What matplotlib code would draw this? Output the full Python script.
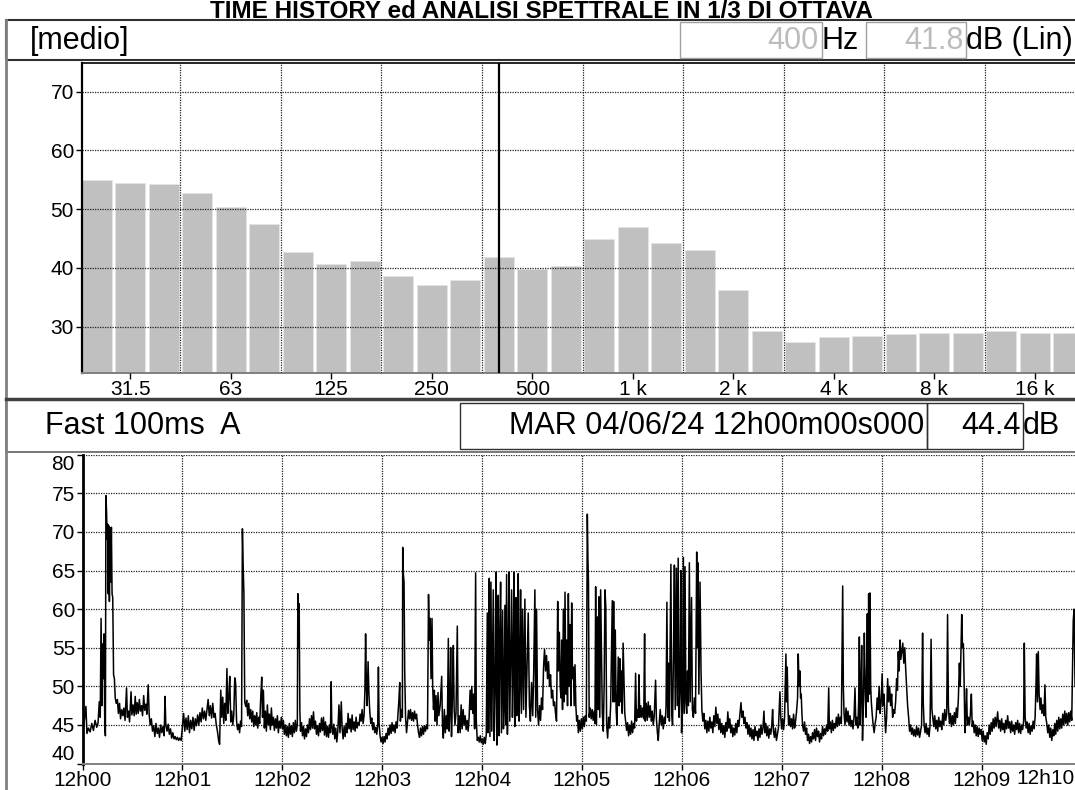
import numpy as np
import matplotlib
matplotlib.use("Agg")
import matplotlib.pyplot as plt
from matplotlib.patches import Rectangle
from matplotlib.lines import Line2D

plt.rcParams['font.family'] = ['Liberation Sans', 'DejaVu Sans']

# 1/3 octave spectrum (average levels, dB Lin)
bands = ["25", "31.5", "40", "50", "63", "80", "100", "125", "160", "200",
         "250", "315", "400", "500", "630", "800", "1 k", "1.25 k", "1.6 k", "2 k",
         "2.5 k", "3.15 k", "4 k", "5 k", "6.3 k", "8 k", "10 k", "12.5 k", "16 k", "20 k"]
band_levels = [55.0, 54.4, 54.2, 52.7, 50.4, 47.5, 42.8, 40.7, 41.2, 38.6,
               37.1, 37.9, 41.8, 39.9, 40.4, 45.0, 47.0, 44.3, 43.0, 36.2,
               29.3, 27.4, 28.2, 28.5, 28.8, 29.0, 29.0, 29.3, 29.0, 29.0]
octave_labels = ["31.5", "63", "125", "250", "500", "1 k", "2 k", "4 k", "8 k", "16 k"]
cursor_band = "400"

# time history, Fast A-weighted (seconds from 12h00m00s, dB)
min_00 = [(0.0, 44.4), (1, 45.5), (2, 47.4), (2.6, 43.9), (3.5, 44.6), (4.5, 44.1), (5.5, 45.2), (6.5, 44.3),
          (7.5, 45.6), (8.5, 44.7), (9.3, 45.3), (10, 48.0), (10.6, 46.0), (11.1, 58.8), (11.6, 47.5),
          (12.1, 55.5), (12.6, 51.0), (12.9, 56.8), (13.3, 45.0), (13.7, 43.6), (14.0, 74.7), (14.4, 72.5),
          (14.8, 69.0), (15.1, 71.0), (15.4, 62.0), (15.7, 70.8), (16.1, 61.0), (16.5, 70.5), (16.9, 63.5),
          (17.3, 70.6), (17.7, 62.0), (18.1, 61.5), (18.6, 51.5), (19.1, 51.0), (19.6, 48.5), (20.2, 47.8),
          (20.9, 48.3), (21.5, 46.5), (22.2, 47.8), (22.8, 45.8), (23.5, 47.0), (24.2, 46.2), (24.8, 47.2),
          (25.5, 45.6), (26.4, 49.8), (26.9, 46.0), (27.6, 46.8), (28.2, 45.4), (29.1, 49.3), (29.6, 46.3),
          (30.3, 47.6), (31.0, 46.2), (31.6, 48.7), (32.2, 46.4), (32.8, 47.9), (33.4, 46.5), (34.1, 48.3),
          (34.7, 46.8), (35.4, 47.5), (36.0, 46.2), (36.7, 48.8), (37.3, 46.9), (38.0, 47.7), (38.6, 46.4),
          (39.4, 50.2), (40.0, 46.3), (40.6, 45.0), (41.3, 45.8), (42.0, 44.2), (42.7, 44.9), (43.4, 43.5),
          (44.1, 45.2), (44.8, 43.9), (45.5, 44.6), (46.2, 43.4), (46.9, 45.0), (47.6, 44.0), (48.3, 44.8),
          (49.0, 43.6), (49.5, 48.7), (50.0, 45.0), (50.7, 44.2), (51.4, 45.1), (52.1, 43.8), (52.8, 44.5),
          (53.5, 43.3), (54.2, 44.0), (54.9, 43.2), (55.6, 43.5), (56.3, 43.1), (57.0, 43.4), (57.7, 43.0),
          (58.4, 43.3), (59.2, 43.0)]
min_01 = [(60.0, 44.8), (60.7, 46.5), (61.4, 44.2), (62.1, 45.9), (62.8, 44.4), (63.5, 46.2), (64.2, 44.0),
          (64.9, 45.6), (65.6, 44.5), (66.3, 46.0), (67.0, 44.3), (67.7, 45.8), (68.4, 44.9), (69.1, 46.3),
          (69.8, 45.0), (70.5, 46.6), (71.2, 45.4), (71.9, 47.2), (72.6, 45.8), (73.3, 46.8), (74.0, 45.6),
          (74.7, 47.0), (75.4, 48.3), (76.1, 46.2), (76.8, 47.5), (77.5, 45.9), (78.2, 47.8), (78.9, 46.0),
          (79.6, 46.5), (80.3, 45.0), (81.0, 44.2), (81.7, 43.0), (82.3, 42.5), (83.0, 49.5), (83.6, 46.0),
          (84.2, 48.6), (84.8, 45.2), (85.4, 47.8), (86.0, 45.6), (86.7, 52.3), (87.2, 46.5), (87.8, 48.5),
          (88.4, 51.3), (89.0, 45.4), (89.6, 46.8), (90.2, 45.0), (90.8, 46.2), (91.4, 51.1), (91.9, 50.5),
          (92.5, 45.5), (93.1, 44.4), (93.7, 45.1), (94.3, 44.0), (94.9, 45.5), (95.5, 44.8), (96.0, 70.4),
          (96.4, 66.0), (96.9, 62.0), (97.4, 48.0), (98.0, 47.4), (98.6, 48.2), (99.2, 46.2), (99.8, 47.8),
          (100.4, 45.8), (101.0, 47.0), (101.6, 45.4), (102.2, 46.8), (102.8, 44.8), (103.4, 46.2),
          (104.0, 45.0), (104.6, 46.6), (105.2, 44.6), (105.8, 46.0), (106.4, 45.2), (107.0, 48.5),
          (107.6, 51.2), (108.1, 46.0), (108.6, 49.5), (109.2, 44.6), (109.8, 46.8), (110.4, 44.2),
          (111.0, 47.6), (111.6, 45.0), (112.2, 46.4), (112.8, 44.4), (113.4, 47.2), (114.0, 45.0),
          (114.6, 46.0), (115.2, 44.3), (115.8, 45.8), (116.4, 44.6), (117.0, 46.2), (117.6, 44.0),
          (118.2, 45.5), (118.8, 44.6), (119.4, 46.0)]
min_02 = [(120.0, 44.5), (120.6, 45.6), (121.2, 43.8), (121.8, 45.0), (122.4, 43.6), (123.0, 44.8),
          (123.6, 43.4), (124.2, 45.2), (124.8, 43.8), (125.4, 44.9), (126.0, 43.5), (126.6, 45.3),
          (127.2, 44.0), (127.8, 45.6), (128.4, 44.2), (129.0, 45.0), (129.3, 62.0), (129.7, 55.0),
          (130.1, 60.7), (130.5, 47.0), (130.9, 44.2), (131.5, 45.3), (132.1, 43.6), (132.7, 44.8),
          (133.3, 43.2), (133.9, 44.5), (134.5, 43.5), (135.1, 45.0), (135.7, 44.0), (136.3, 45.8),
          (136.9, 44.4), (137.5, 46.2), (138.1, 44.6), (138.7, 46.7), (139.3, 44.5), (139.9, 45.5),
          (140.5, 43.8), (141.1, 44.9), (141.7, 43.6), (142.3, 45.2), (142.9, 44.1), (143.5, 45.9),
          (144.1, 44.3), (144.7, 46.0), (145.3, 43.7), (145.9, 45.4), (146.5, 43.5), (147.1, 44.8),
          (147.7, 43.4), (148.3, 45.0), (148.9, 44.0), (149.3, 50.6), (149.7, 45.0), (150.3, 43.8),
          (150.9, 45.1), (151.5, 43.2), (152.1, 44.6), (152.7, 42.8), (153.3, 44.2), (154.0, 47.6),
          (154.6, 44.0), (155.4, 48.0), (155.9, 44.6), (156.5, 43.2), (157.1, 44.8), (157.7, 43.5),
          (158.3, 45.2), (158.9, 44.0), (159.5, 46.5), (160.1, 44.5), (160.7, 45.8), (161.3, 44.1),
          (161.9, 46.3), (162.5, 44.4), (163.1, 45.4), (163.7, 44.2), (164.3, 46.0), (164.9, 44.6),
          (165.5, 45.3), (166.1, 45.0), (166.7, 46.4), (167.3, 45.5), (167.9, 47.0), (168.5, 45.2),
          (169.1, 46.3), (169.6, 49.5), (170.0, 56.8), (170.5, 50.0), (170.9, 47.5), (171.5, 53.2),
          (172.0, 49.0), (172.5, 46.8), (173.1, 45.2), (173.7, 45.9), (174.3, 44.4), (174.9, 45.3),
          (175.5, 44.0), (176.1, 44.7), (176.7, 43.8), (177.3, 45.0), (177.7, 52.5), (178.1, 45.2),
          (178.7, 43.6), (179.3, 42.8), (179.9, 43.4)]
min_03 = [(180.5, 42.6), (181.1, 43.5), (181.7, 42.8), (182.3, 43.9), (182.9, 43.2), (183.5, 44.6),
          (184.1, 43.7), (184.7, 45.0), (185.3, 43.9), (185.9, 45.3), (186.5, 44.2), (187.1, 45.0),
          (187.7, 44.0), (188.3, 45.4), (188.9, 44.6), (189.5, 46.5), (190.0, 48.2), (190.5, 50.5),
          (190.9, 45.5), (191.5, 47.0), (192.1, 46.0), (192.3, 68.0), (192.7, 64.5), (193.1, 63.5),
          (193.5, 52.0), (194.0, 46.0), (194.6, 44.0), (195.2, 45.5), (195.8, 46.9), (196.4, 45.8),
          (197.0, 47.0), (197.6, 45.6), (198.2, 46.6), (198.8, 45.5), (199.4, 46.8), (200.0, 45.8),
          (200.6, 46.4), (201.2, 45.0), (201.8, 44.0), (202.4, 43.4), (203.0, 44.6), (203.6, 43.6),
          (204.2, 44.8), (204.8, 43.8), (205.4, 44.9), (206.0, 44.2), (206.6, 45.0), (207.2, 44.5),
          (207.8, 61.9), (208.3, 56.0), (208.8, 58.8), (209.3, 51.0), (209.9, 58.8), (210.3, 50.0),
          (210.8, 47.0), (211.3, 49.5), (211.8, 45.5), (212.3, 48.8), (212.9, 45.0), (213.5, 49.2),
          (214.0, 46.2), (214.8, 47.5), (215.7, 51.3), (216.2, 45.0), (216.7, 43.3), (217.3, 47.0),
          (217.9, 44.0), (218.5, 46.2), (219.1, 44.5), (219.7, 56.2), (220.2, 44.2), (220.7, 47.0),
          (221.1, 55.0), (221.6, 43.5), (222.2, 49.0), (222.7, 55.3), (223.2, 47.0), (223.7, 45.0),
          (224.3, 46.5), (225.1, 57.8), (225.6, 44.0), (226.2, 46.2), (226.8, 44.0), (227.4, 47.6),
          (228.0, 44.5), (228.6, 47.0), (229.2, 45.0), (229.8, 46.2), (230.4, 44.4), (231.0, 45.6),
          (231.6, 44.2), (232.2, 46.0), (232.8, 49.5), (233.3, 47.0), (233.8, 50.0), (234.4, 46.5),
          (234.9, 49.0), (235.5, 44.5), (236.1, 64.7), (236.5, 45.5), (237.1, 43.0), (237.7, 43.4),
          (238.3, 42.8), (238.9, 43.6), (239.5, 42.7)]
min_04 = [(240.1, 43.2), (240.7, 42.5), (241.3, 43.4), (241.9, 42.6), (242.5, 43.8), (243.1, 59.5),
          (243.5, 44.0), (244.0, 54.0), (244.3, 64.0), (244.7, 43.5), (245.3, 63.5), (245.8, 44.2),
          (246.2, 52.0), (246.7, 62.5), (247.2, 43.0), (247.8, 50.0), (248.3, 64.8), (248.8, 42.4),
          (249.2, 48.0), (249.7, 61.8), (250.2, 43.6), (250.6, 55.0), (251.1, 63.5), (251.6, 44.0),
          (251.9, 50.5), (252.3, 59.8), (252.8, 44.5), (253.2, 47.0), (253.7, 60.5), (254.2, 45.0),
          (254.7, 64.5), (255.2, 43.8), (255.6, 52.0), (256.1, 64.8), (256.6, 45.5), (257.2, 55.0),
          (257.7, 62.5), (258.2, 46.0), (258.6, 51.0), (259.1, 64.8), (259.6, 44.8), (259.9, 50.0),
          (260.3, 61.5), (260.8, 46.2), (261.2, 56.0), (261.7, 64.6), (262.2, 45.5), (262.6, 50.0),
          (263.1, 62.5), (263.6, 46.5), (264.3, 60.0), (264.9, 47.0), (265.7, 61.3), (266.3, 46.0),
          (266.9, 52.0), (267.7, 59.5), (268.4, 47.5), (269.0, 45.5), (269.7, 50.5), (270.4, 46.2),
          (271.0, 52.0), (271.7, 62.5), (272.2, 46.0), (272.7, 60.0), (273.3, 47.0), (273.9, 45.0),
          (274.5, 47.5), (275.1, 45.6), (275.7, 48.5), (276.3, 47.0), (276.9, 52.5), (277.5, 54.8),
          (278.1, 52.0), (278.7, 54.0), (279.3, 51.0), (279.9, 53.2), (280.5, 50.0), (281.1, 51.5),
          (281.7, 48.5), (282.3, 49.5), (282.9, 47.5), (283.5, 48.0), (284.1, 46.5), (284.7, 45.5),
          (285.4, 61.0), (285.8, 52.0), (286.4, 57.0), (286.9, 50.0), (287.4, 48.5), (287.8, 56.0),
          (288.3, 47.0), (288.8, 60.0), (289.3, 48.0), (289.8, 62.2), (290.3, 49.0), (290.8, 56.0),
          (291.3, 47.5), (291.8, 62.0), (292.3, 50.0), (292.8, 58.0), (293.3, 47.5), (293.8, 60.8),
          (294.3, 51.0), (294.8, 52.5), (295.3, 47.5), (295.8, 52.8), (296.3, 47.5), (296.8, 45.5),
          (297.3, 46.2), (297.8, 44.0), (298.4, 45.6), (299.0, 44.2), (299.6, 45.8)]
min_05 = [(300.2, 44.5), (300.8, 46.0), (301.4, 44.8), (302.0, 46.2), (302.6, 45.5), (303.2, 72.3),
          (303.6, 66.0), (303.9, 63.5), (304.3, 46.0), (304.9, 47.2), (305.5, 45.8), (306.1, 47.0),
          (306.7, 45.6), (307.3, 46.8), (307.8, 45.2), (308.2, 62.9), (308.7, 45.0), (309.4, 59.0),
          (309.8, 47.0), (310.2, 61.6), (310.7, 46.0), (311.2, 62.5), (311.7, 54.0), (312.2, 46.5),
          (312.8, 44.2), (313.3, 50.0), (313.8, 62.5), (314.3, 60.3), (314.8, 45.0), (315.4, 43.3),
          (316.0, 46.0), (316.6, 44.6), (317.2, 47.5), (317.6, 52.7), (318.2, 61.1), (318.6, 48.0),
          (319.0, 61.0), (319.5, 48.0), (320.0, 57.3), (320.5, 47.0), (321.0, 45.0), (321.8, 53.8),
          (322.3, 47.5), (322.7, 53.6), (323.2, 48.0), (323.7, 52.0), (324.2, 46.5), (324.7, 55.6),
          (325.2, 51.0), (325.7, 46.5), (326.2, 45.5), (326.8, 44.3), (327.4, 45.3), (328.0, 43.6),
          (328.6, 45.0), (329.2, 43.8), (329.8, 45.5), (330.4, 44.0), (331.0, 45.2), (331.6, 44.6),
          (332.2, 51.7), (332.7, 45.5), (333.3, 47.0), (333.8, 46.0), (334.2, 51.5), (334.7, 46.0),
          (335.3, 47.5), (335.9, 46.0), (336.5, 47.2), (337.1, 45.8), (337.6, 56.8), (338.0, 45.5),
          (338.6, 47.8), (339.2, 45.6), (339.8, 48.0), (340.4, 46.0), (341.0, 47.5), (341.6, 45.5),
          (342.2, 46.8), (342.8, 45.0), (343.4, 46.2), (344.2, 50.8), (344.7, 45.8), (345.3, 44.0),
          (345.8, 43.0), (346.4, 45.2), (347.0, 47.0), (347.6, 45.0), (348.2, 46.2), (348.8, 44.5),
          (349.4, 46.0), (350.0, 45.2), (350.5, 47.5)]
min_06 = [(351.0, 60.9), (351.5, 46.0), (352.0, 53.0), (352.5, 45.5), (353.4, 65.8), (353.9, 46.5),
          (354.4, 45.0), (355.0, 55.0), (355.5, 65.7), (356.0, 47.0), (356.7, 65.3), (357.2, 47.5),
          (357.8, 66.6), (358.3, 46.0), (358.9, 50.0), (359.4, 65.0), (359.8, 44.0), (360.4, 47.0),
          (360.9, 66.7), (361.4, 46.5), (361.9, 65.5), (362.4, 48.0), (362.9, 46.5), (363.4, 52.0),
          (363.9, 47.5), (364.5, 66.0), (365.0, 48.0), (365.8, 61.5), (366.3, 47.0), (366.9, 46.0),
          (367.5, 48.5), (368.2, 46.5), (368.9, 67.4), (369.3, 55.0), (369.7, 66.0), (370.2, 49.0),
          (370.9, 63.5), (371.5, 52.0), (372.0, 47.0), (372.6, 45.5), (373.2, 46.5), (373.8, 44.5),
          (374.4, 45.6), (375.0, 44.0), (375.6, 45.5), (376.2, 44.2), (376.8, 46.0), (377.4, 44.6),
          (378.0, 45.4), (378.6, 44.0), (379.2, 46.2), (379.8, 44.8), (380.4, 47.3), (381.0, 45.2),
          (381.6, 46.4), (382.2, 44.4), (382.8, 45.8), (383.4, 44.0), (384.0, 45.2), (384.6, 43.8),
          (385.2, 44.9), (385.8, 43.4), (386.4, 45.3), (387.0, 44.2), (387.6, 46.7), (388.2, 44.6),
          (388.8, 45.8), (389.4, 44.0), (390.0, 45.0), (390.6, 43.5), (391.2, 44.6), (391.8, 43.7),
          (392.4, 45.2), (393.0, 44.0), (393.6, 45.6), (394.2, 44.8), (394.8, 46.3), (395.5, 47.9),
          (396.1, 46.0), (396.7, 46.8), (397.3, 45.2), (397.9, 46.0), (398.5, 44.6), (399.1, 45.3)]
min_07 = [(399.7, 43.8), (400.3, 45.0), (400.9, 43.5), (401.5, 44.6), (402.1, 43.2), (402.7, 44.4),
          (403.3, 43.0), (403.9, 44.8), (404.5, 43.6), (405.1, 44.2), (405.7, 43.0), (406.3, 44.5),
          (406.9, 43.4), (407.5, 45.0), (408.1, 43.8), (408.7, 44.6), (409.3, 46.8), (409.8, 44.0),
          (410.4, 45.2), (411.0, 43.6), (411.6, 44.8), (412.2, 43.3), (412.8, 44.5), (413.4, 43.8),
          (414.0, 45.0), (414.5, 47.0), (415.0, 44.2), (415.6, 43.4), (416.2, 44.6), (416.8, 43.0),
          (417.4, 43.8), (418.0, 44.6), (418.9, 49.3), (419.4, 46.0), (419.9, 44.5), (420.5, 45.8),
          (421.1, 44.4), (421.7, 46.0), (422.5, 54.2), (422.9, 48.0), (423.3, 52.5), (423.7, 47.5),
          (424.1, 45.0), (424.7, 46.2), (425.3, 44.8), (425.9, 45.8), (426.5, 44.5), (427.1, 46.4),
          (427.7, 44.6), (428.3, 45.5), (428.9, 46.8), (429.5, 48.5), (429.9, 54.2), (430.4, 50.0),
          (430.9, 52.0), (431.3, 48.5), (431.7, 49.0), (432.1, 46.5), (432.5, 45.0), (433.1, 44.2),
          (433.7, 45.4), (434.3, 43.8), (434.9, 44.6), (435.5, 43.0), (436.1, 43.8), (436.7, 42.6),
          (437.3, 43.5), (437.9, 42.8), (438.5, 44.0), (439.1, 43.2), (439.7, 44.4), (440.3, 43.0),
          (440.9, 44.6), (441.5, 43.5), (442.1, 44.2), (442.7, 42.8), (443.3, 43.9), (443.9, 43.2),
          (444.5, 44.8), (445.1, 43.6), (445.7, 44.5), (446.3, 43.8), (446.9, 45.0), (447.6, 44.2),
          (448.2, 49.8), (448.6, 44.5), (449.2, 45.4), (449.8, 44.0), (450.4, 45.6), (451.0, 44.3),
          (451.6, 45.2), (452.2, 44.6), (452.8, 46.0), (453.4, 44.8), (454.0, 46.4), (454.6, 45.0),
          (455.2, 46.0), (455.8, 45.2), (456.6, 63.0), (457.0, 50.0), (457.4, 46.5), (458.0, 45.0),
          (458.6, 47.2), (459.2, 45.4), (459.8, 46.8), (460.4, 45.0), (461.0, 46.2), (461.6, 44.8),
          (462.2, 45.6), (462.8, 44.5), (463.4, 46.0), (464.0, 49.8), (464.5, 45.0), (465.1, 46.0),
          (465.7, 44.6), (466.2, 48.0), (466.6, 56.4), (467.1, 45.0), (467.6, 50.0), (468.0, 55.3),
          (468.5, 43.0), (469.1, 48.0), (469.6, 56.9), (470.1, 50.0), (470.6, 46.0), (471.0, 52.0),
          (471.4, 59.4), (471.8, 48.0), (472.2, 62.0), (472.6, 49.0), (473.0, 62.1), (473.4, 50.0),
          (473.8, 48.0), (474.3, 46.5), (474.9, 45.0), (475.5, 44.0), (476.1, 45.2), (476.7, 46.0),
          (477.3, 48.5), (477.9, 47.0), (478.5, 50.0), (479.1, 46.5), (479.7, 48.0)]
min_08 = [(480.3, 51.6), (480.8, 47.5), (481.3, 49.0), (481.8, 47.0), (482.4, 44.0), (483.0, 46.0),
          (483.6, 51.0), (484.2, 48.0), (484.8, 50.0), (485.4, 47.5), (486.0, 49.0), (486.6, 46.0),
          (487.2, 47.0), (487.8, 46.5), (488.4, 48.0), (489.0, 51.0), (489.5, 49.5), (490.0, 54.5),
          (490.5, 52.0), (491.0, 56.0), (491.5, 53.5), (492.1, 54.5), (492.7, 55.6), (493.3, 53.0),
          (493.9, 55.0), (494.5, 52.0), (495.0, 50.0), (495.6, 47.5), (496.2, 46.0), (496.8, 44.2),
          (497.4, 45.0), (498.0, 43.8), (498.6, 44.6), (499.2, 43.6), (499.8, 44.4), (500.4, 43.5),
          (501.0, 44.8), (501.6, 43.7), (502.2, 44.6), (502.8, 43.4), (503.4, 44.2), (504.0, 45.0),
          (504.6, 56.9), (505.0, 48.0), (505.5, 45.0), (506.1, 44.0), (506.7, 45.2), (507.3, 43.8),
          (507.9, 44.6), (508.5, 43.5), (509.1, 45.0), (509.7, 56.1), (510.2, 47.0), (510.7, 46.0),
          (511.3, 44.8), (511.9, 46.2), (512.5, 44.5), (513.1, 45.6), (513.7, 44.2), (514.3, 46.0),
          (514.9, 44.8), (515.5, 45.5), (516.1, 44.4), (516.7, 46.5), (517.3, 45.0), (517.9, 47.0),
          (518.5, 45.6), (519.1, 46.5), (519.6, 59.3), (520.1, 47.5), (520.7, 45.2), (521.3, 46.5),
          (521.9, 44.8), (522.5, 46.2), (523.1, 45.0), (523.7, 46.6), (524.3, 45.2), (524.9, 47.2),
          (525.5, 46.0), (526.1, 48.5), (526.7, 53.0), (527.2, 50.0), (527.7, 55.0), (528.1, 59.3),
          (528.6, 55.0), (529.1, 55.5), (529.6, 50.0), (530.0, 44.0), (530.5, 46.0), (531.0, 49.7),
          (531.5, 45.0), (532.1, 46.0), (532.7, 45.0), (533.3, 46.4), (533.9, 49.0), (534.4, 44.8),
          (535.0, 45.5), (535.6, 44.0), (536.2, 45.0), (536.8, 43.6), (537.4, 44.8), (538.0, 43.5),
          (538.6, 44.6), (539.2, 43.8), (539.8, 44.4)]
min_09 = [(540.4, 43.0), (541.0, 44.2), (541.6, 42.8), (542.2, 43.6), (542.8, 42.5), (543.4, 44.0),
          (544.0, 43.2), (544.6, 45.0), (545.2, 43.8), (545.8, 45.3), (546.4, 44.2), (547.0, 45.8),
          (547.6, 44.6), (548.2, 46.0), (548.8, 44.8), (549.7, 46.7), (550.3, 44.6), (550.9, 45.6),
          (551.5, 44.2), (552.1, 45.8), (552.7, 44.4), (553.3, 45.2), (553.9, 44.0), (554.5, 45.6),
          (555.1, 44.5), (555.7, 46.2), (556.3, 44.6), (556.9, 45.4), (557.5, 44.0), (558.1, 45.5),
          (558.7, 44.2), (559.3, 45.0), (559.9, 43.8), (560.5, 45.3), (561.1, 44.4), (561.7, 45.6),
          (562.3, 44.0), (562.9, 45.2), (563.5, 43.9), (564.1, 45.0), (564.7, 44.4), (565.3, 45.5),
          (565.7, 55.6), (566.2, 46.0), (566.8, 44.6), (567.4, 45.4), (568.0, 44.0), (568.6, 45.2),
          (569.2, 43.8), (569.8, 44.9), (570.4, 44.2), (571.0, 45.5), (571.6, 44.5), (572.2, 46.0),
          (572.7, 50.0), (573.1, 54.2), (573.6, 48.0), (574.1, 54.5), (574.6, 49.0), (575.2, 47.0),
          (575.7, 48.5), (576.3, 46.5), (576.9, 47.6), (577.5, 46.2), (578.1, 50.2), (578.6, 46.0),
          (579.2, 45.2), (579.8, 44.0), (580.4, 45.0), (581.0, 43.4), (581.6, 44.6), (582.2, 43.0),
          (582.8, 44.4), (583.4, 43.6), (584.0, 45.2), (584.6, 43.8), (585.2, 45.6), (585.8, 44.2),
          (586.4, 46.0), (587.0, 44.5), (587.6, 45.8), (588.2, 44.6), (588.8, 46.4), (589.4, 45.0),
          (590.0, 46.8), (590.6, 45.2), (591.2, 46.5), (591.8, 45.0), (592.4, 46.6), (593.0, 45.4),
          (593.6, 46.8), (594.2, 45.6), (595.1, 58.5), (595.6, 60.0), (596.2, 50.0)]
minute_labels = ["12h00", "12h01", "12h02", "12h03", "12h04", "12h05",
                 "12h06", "12h07", "12h08", "12h09", "12h10"]

W, H = 1075, 790
GRID = dict(color="#202020", linestyle=(0, (1, 1)), linewidth=0.9)
FS_HEAD = 22
FS_TICK = 15


def fx(px):
    return px / W


def fy(py):
    return 1 - py / H


def frame(x0, y0, x1, y1, ec, lw=1.0):
    fig.add_artist(Rectangle((fx(x0), fy(y1)), fx(x1 - x0), (y1 - y0) / H,
                             transform=fig.transFigure, fill=False, ec=ec, lw=lw, clip_on=False))


fig = plt.figure(figsize=(W / 100, H / 100), dpi=100)

# title squeezed into the strip above the header
fig.text(fx(541), fy(18.5), "TIME HISTORY ed ANALISI SPETTRALE IN 1/3 DI OTTAVA",
         ha="center", va="baseline", fontsize=17.5, fontweight="bold")

# outer left rule
fig.add_artist(Line2D([fx(6), fx(6)], [fy(20), fy(790)], transform=fig.transFigure,
                      color="#808080", lw=2))

# ---- spectrum header ----
frame(6, 20, 1085, 60, "#303030", 1.5)
frame(680, 22, 822, 58, "#a0a0a0", 1.0)
frame(866, 22, 966, 58, "#a0a0a0", 1.0)
head_y = fy(41)
fig.text(fx(30), head_y, "[medio]", fontsize=FS_HEAD, va="center")
fig.text(fx(819), head_y, cursor_band, fontsize=FS_HEAD, va="center", ha="right", color="#bcbcbc")
fig.text(fx(822), head_y, "Hz", fontsize=FS_HEAD, va="center")
fig.text(fx(964), head_y, f"{band_levels[bands.index(cursor_band)]:.1f}", fontsize=FS_HEAD,
         va="center", ha="right", color="#bcbcbc")
fig.text(fx(966), head_y, "dB (Lin)", fontsize=FS_HEAD, va="center")

# ---- spectrum bars ----
ax1 = fig.add_axes([fx(81.6), fy(372.7), fx(1075 - 81.6), (372.7 - 62.7) / H])
idx = np.arange(len(bands))
ax1.bar(idx, band_levels, width=0.9, color="#c0c0c0", edgecolor="#e4e4e4", linewidth=0.6, zorder=1)
ax1.set_xlim(-0.451, 29.2)
ax1.set_ylim(22.2, 74.9)
ax1.set_xticks([bands.index(b) for b in octave_labels])
ax1.set_xticklabels(octave_labels)
ax1.set_xticks(np.arange(2.5, 29, 3), minor=True)
ax1.set_yticks([30, 40, 50, 60, 70])
ax1.grid(True, which="minor", axis="x", zorder=2, **GRID)
ax1.grid(True, which="major", axis="y", zorder=2, **GRID)
ax1.set_axisbelow(False)
ax1.axvline(bands.index(cursor_band), color="black", lw=1.6, zorder=3)
ax1.tick_params(axis="both", which="major", labelsize=FS_TICK, length=4, width=1, pad=1.5)
ax1.tick_params(axis="x", which="minor", length=0)
ax1.spines["right"].set_visible(False)
ax1.spines["left"].set_linewidth(1.6)
ax1.spines["top"].set_linewidth(1.2)
ax1.spines["bottom"].set_color("#808080")
ax1.spines["bottom"].set_linewidth(1.4)

# ---- time history header ----
fig.add_artist(Line2D([fx(6), fx(1075)], [fy(399), fy(399)], transform=fig.transFigure,
                      color="#404040", lw=2.5))
frame(6, 400, 1085, 452, "#606060", 1.2)
frame(460, 403, 927, 449, "#303030", 1.0)
frame(927, 403, 1023, 449, "#303030", 1.0)
series = min_00 + min_01 + min_02 + min_03 + min_04 + min_05 + min_06 + min_07 + min_08 + min_09
t_sec = np.array([p[0] for p in series])
level_db = np.array([p[1] for p in series])
head_y2 = fy(426)
fig.text(fx(45), head_y2, "Fast 100ms  A", fontsize=FS_HEAD, va="center")
fig.text(fx(924), head_y2, "MAR 04/06/24 12h00m00s000", fontsize=FS_HEAD, va="center", ha="right")
fig.text(fx(1021), head_y2, f"{level_db[0]:.1f}", fontsize=FS_HEAD, va="center", ha="right")
fig.text(fx(1023), head_y2, "dB", fontsize=FS_HEAD, va="center")

# ---- time history trace ----
ax2 = fig.add_axes([fx(82.6), fy(763.6), fx(1075 - 82.6), (763.6 - 454.7) / H])
ax2.plot(t_sec, level_db, color="black", lw=1.1, zorder=3)
ax2.set_xlim(0, (1075 - 82.6) / 99.88 * 60)
ax2.set_ylim(40, 80)
ax2.set_xticks(np.arange(0, 600, 60))
ax2.set_xticklabels(minute_labels[:-1])
ax2.set_yticks(np.arange(40, 81, 5))
ax2.grid(True, axis="both", zorder=1, **GRID)
ax2.tick_params(axis="both", labelsize=FS_TICK, length=4, width=1, pad=1.5)
ax2.spines["right"].set_visible(False)
ax2.spines["top"].set_visible(False)
ax2.spines["left"].set_linewidth(2.0)
ax2.spines["bottom"].set_color("#808080")
ax2.spines["bottom"].set_linewidth(1.4)
ylabels = ax2.get_yticklabels()
ylabels[0].set_verticalalignment("bottom")
ylabels[-1].set_verticalalignment("top")
ax2.annotate(minute_labels[-1], xy=(600, 0), xycoords=("data", "axes fraction"),
             xytext=(-26, -4), textcoords="offset points", ha="center", va="top",
             fontsize=FS_TICK, annotation_clip=False)

fig.savefig("out.png", dpi=100)
